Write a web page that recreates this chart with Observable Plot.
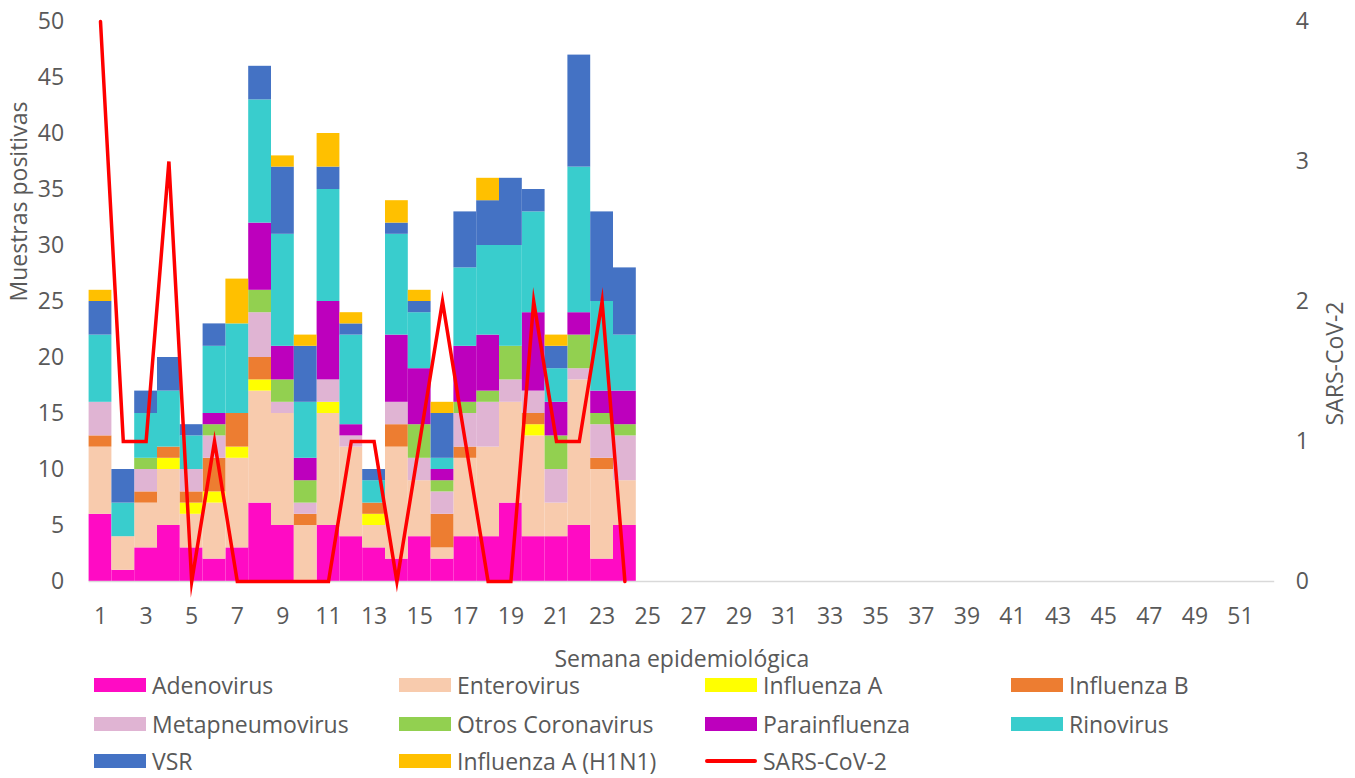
<!DOCTYPE html>
<html><head><meta charset="utf-8">
<script src="https://cdn.jsdelivr.net/npm/d3@7"></script>
<script src="https://cdn.jsdelivr.net/npm/@observablehq/plot@0.6"></script>
<style>
body{margin:0;background:#fff;font-family:"Open Sans",sans-serif;}
#wrap{position:relative;width:1355px;height:778px;background:#fff;}
#legend{position:absolute;left:0;top:0;width:1355px;height:778px;}
.item{position:absolute;display:flex;align-items:center;height:22px;line-height:22px;font-size:23px;color:#595959;white-space:nowrap;}
.item span{line-height:22px;display:block;height:22px}
.sw{width:52px;height:14px;margin-right:6px;flex:none}
.ln{width:52px;height:4px;margin-right:6px;flex:none;border-radius:2px}
</style></head><body><div id="wrap"><div id="chart"></div><div id="legend"></div></div>
<script>
// ---- data ----
const allWeeks = d3.range(1, 53);
const dataWeeks = d3.range(1, 25);
const xTicks = d3.range(1, 52, 2);
const yTicksLeft = [0, 5, 10, 15, 20, 25, 30, 35, 40, 45, 50];
const yTicksRight = [0, 1, 2, 3, 4];

const seriesNames = ["Adenovirus", "Enterovirus", "Influenza A", "Influenza B", "Metapneumovirus",
  "Otros Coronavirus", "Parainfluenza", "Rinovirus", "VSR", "Influenza A (H1N1)"];
const seriesColors = ["#ff0bc4", "#f8cbad", "#ffff00", "#ed7d31", "#e0b4d3",
  "#92d050", "#bd00bd", "#39cdcd", "#4472c4", "#ffc000"];

const adenovirus   = [6,1,3,5,3,2,3,7,5,0,5,4,3,2,4,2,4,4,7,4,4,5,2,5];
const enterovirus  = [6,3,4,5,3,5,8,10,10,5,10,8,2,10,5,1,7,8,9,9,3,13,8,4];
const influenzaA   = [0,0,0,1,1,1,1,1,0,0,1,0,1,0,0,0,0,0,0,1,0,0,0,0];
const influenzaB   = [1,0,1,1,1,3,3,2,0,1,0,0,1,2,0,3,1,0,0,1,0,0,1,0];
const metapneumo   = [3,0,2,0,2,2,0,4,1,1,2,1,0,2,2,2,3,4,2,2,3,1,3,4];
const otrosCoV     = [0,0,1,0,0,1,0,2,2,2,0,0,0,0,3,1,1,1,3,0,3,3,1,1];
const parainflu    = [0,0,0,0,0,1,0,6,3,2,7,1,0,6,5,1,5,5,0,7,3,2,2,3];
const rinovirus    = [6,3,4,5,3,6,8,11,10,5,10,8,2,9,5,1,7,8,9,9,3,13,8,5];
const vsr          = [3,3,2,3,1,2,0,3,6,5,2,1,1,1,1,4,5,4,6,2,2,10,8,6];
const h1n1         = [1,0,0,0,0,0,4,0,1,1,3,1,0,2,1,1,0,2,0,0,1,0,0,0];
const sarsCoV2     = [4,1,1,3,0,1,0,0,0,0,0,1,1,0,1,2,1,0,0,2,1,1,2,0];

const seriesValues = [adenovirus, enterovirus, influenzaA, influenzaB, metapneumo,
  otrosCoV, parainflu, rinovirus, vsr, h1n1];

// ---- build tables ----
const bars = [];
seriesNames.forEach((name, i) => {
  seriesValues[i].forEach((v, j) => bars.push({week: dataWeeks[j], virus: name, value: v}));
});
const leftMax = 50, rightMax = 4, k = leftMax / rightMax;
const line = dataWeeks.map((w, j) => ({week: w, value: sarsCoV2[j] * k}));

const grey = "#595959";
const chart = Plot.plot({
  width: 1355,
  height: 680,
  marginLeft: 88.6,
  marginRight: 80.8,
  marginTop: 21,
  marginBottom: 99,
  style: {fontFamily: "'Open Sans', sans-serif", fontSize: "23px", color: grey, background: "#fff"},
  x: {type: "band", domain: allWeeks, padding: 0},
  y: {domain: [0, leftMax]},
  color: {domain: seriesNames, range: seriesColors},
  marks: [
    Plot.barY(bars, {x: "week", y: "value", fill: "virus", order: null}),
    Plot.ruleY([0], {stroke: "#d9d9d9", strokeWidth: 1.5}),
    Plot.line(line, {x: "week", y: "value", stroke: "#ff0000", strokeWidth: 3.5, strokeLinejoin: "miter", strokeMiterlimit: 10}),
    Plot.axisX({ticks: xTicks, tickSize: 0, tickPadding: 26, label: null}),
    Plot.axisY({anchor: "left", ticks: yTicksLeft, tickSize: 0, tickPadding: 25, label: null}),
    Plot.axisY({anchor: "right", ticks: yTicksRight.map(d => d * k), tickFormat: d => String(d / k), tickSize: 0, tickPadding: 21, label: null}),
    Plot.text(["Semana epidemiológica"], {frameAnchor: "bottom", dy: 78, lineAnchor: "middle", fill: grey, fontSize: 23}),
    Plot.text(["Muestras positivas"], {frameAnchor: "left", dx: -69, rotate: -90, lineAnchor: "middle", fill: grey, fontSize: 23}),
    Plot.text(["SARS-CoV-2"], {frameAnchor: "right", dx: 61, rotate: -90, lineAnchor: "middle", fill: grey, fontSize: 23})
  ]
});
document.getElementById("chart").appendChild(chart);

// ---- legend ----
const legendItems = seriesNames.map((n, i) => ({name: n, color: seriesColors[i], type: "bar"}))
  .concat([{name: "SARS-CoV-2", color: "#ff0000", type: "line"}]);
const colX = [94, 399, 705, 1011];
const rowY = [684.5, 723.5, 761];
const legend = document.getElementById("legend");
legendItems.forEach((it, i) => {
  const div = document.createElement("div");
  div.className = "item";
  div.style.left = colX[i % 4] + "px";
  div.style.top = (rowY[Math.floor(i / 4)] - 11) + "px";
  const sw = document.createElement("div");
  sw.className = it.type === "bar" ? "sw" : "ln";
  sw.style.background = it.color;
  const t = document.createElement("span");
  t.textContent = it.name;
  div.appendChild(sw); div.appendChild(t);
  legend.appendChild(div);
});
</script></body></html>
